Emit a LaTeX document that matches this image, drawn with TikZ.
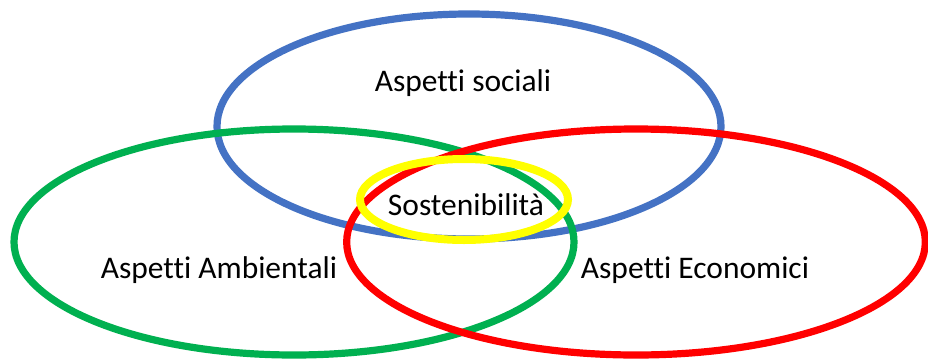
\documentclass[tikz,border=0pt]{standalone}
\usepackage{fontspec}
\setmainfont[Ligatures={NoCommon}]{Carlito}
\definecolor{vblue}{HTML}{4472C4}
\definecolor{vgreen}{HTML}{00B050}
\definecolor{vred}{HTML}{FF0000}
\definecolor{vyellow}{HTML}{FFFF00}
\tikzset{
  ring/.style={line width=5.4pt},
  lbl/.style={anchor=base, inner sep=0pt, font=\fontsize{23.6}{28}\selectfont}
}
\begin{document}
\begin{tikzpicture}[x=0.75pt,y=-0.75pt]
\useasboundingbox[fill=white] (0,0) rectangle (928,361);
\draw[ring, vblue] (469,126.5) ellipse [x radius=189pt, y radius=84.375pt];
\draw[ring, vgreen] (294,242) ellipse [x radius=210pt, y radius=84.75pt];
\draw[ring, vred] (636,242) ellipse [x radius=217pt, y radius=84.75pt];
\draw[ring, vyellow, line width=6pt] (464,199.5) ellipse [x radius=78pt, y radius=30.375pt];
\node[lbl] (soc) at (463,91) {Aspetti sociali};
\node[lbl] (sost) at (466,215) {Sostenibilità};
\node[lbl] (amb) at (219,278) {Aspetti Ambientali};
\node[lbl] (eco) at (695,278) {Aspetti Economici};
\end{tikzpicture}
\end{document}
